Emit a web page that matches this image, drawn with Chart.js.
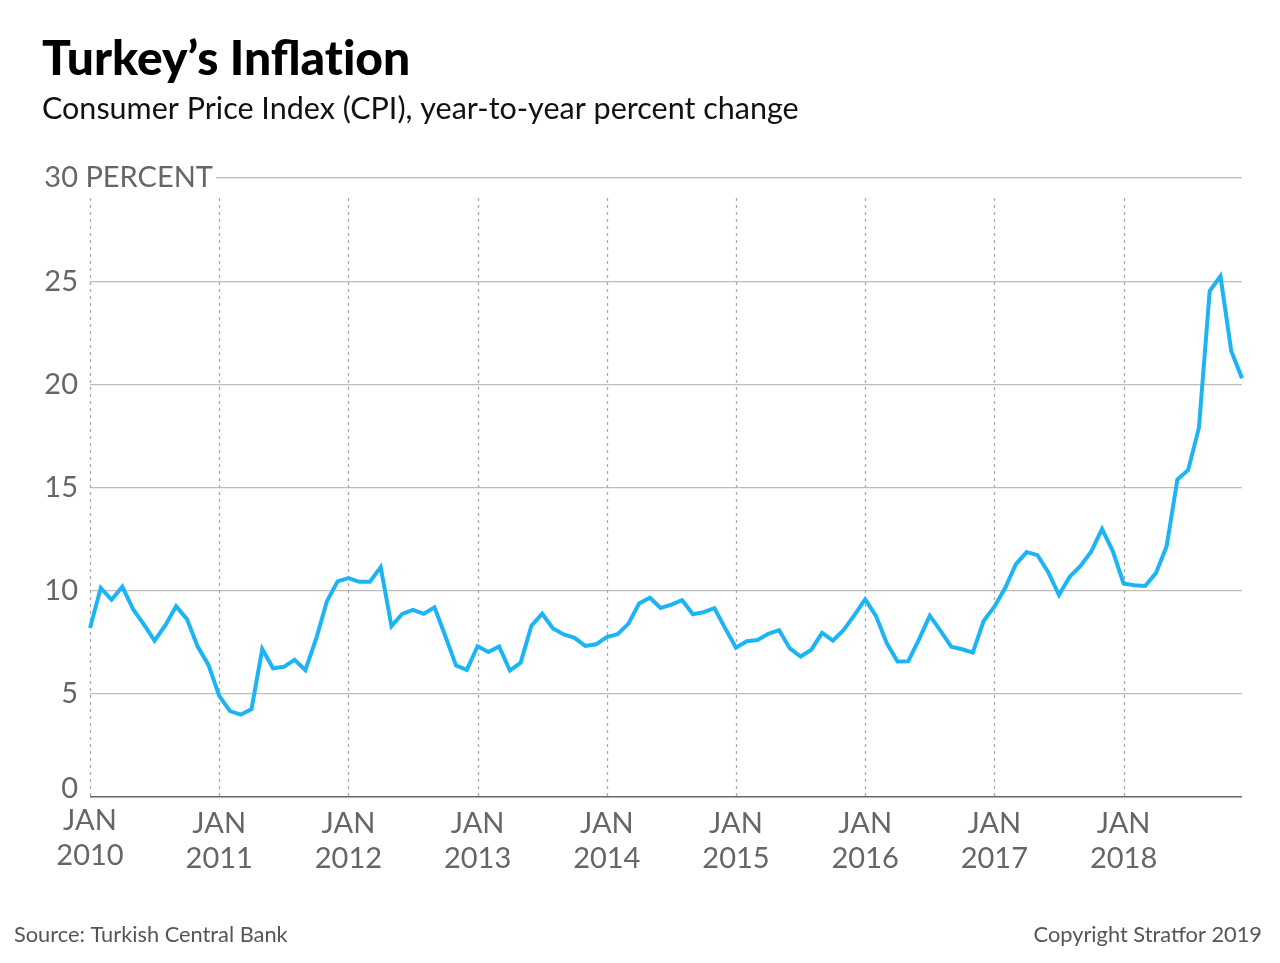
<!DOCTYPE html>
<html>
<head>
<meta charset="utf-8">
<script src="https://cdn.jsdelivr.net/npm/chart.js@4/dist/chart.umd.min.js"></script>
<style>
  html, body { margin:0; padding:0; background:#fff; }
  #wrap { width:1280px; height:963px; position:relative; }
</style>
</head>
<body>
<div id="wrap"><canvas id="c" width="1280" height="963"></canvas></div>
<script>
// ---- data ----
const years = [2010, 2011, 2012, 2013, 2014, 2015, 2016, 2017, 2018];
const monthNames = ['JAN','FEB','MAR','APR','MAY','JUN','JUL','AUG','SEP','OCT','NOV','DEC'];
const cpi2010 = [8.19, 10.13, 9.56, 10.19, 9.10, 8.37, 7.58, 8.33, 9.24, 8.62, 7.29, 6.40];
const cpi2011 = [4.90, 4.16, 3.99, 4.26, 7.17, 6.24, 6.31, 6.65, 6.15, 7.66, 9.48, 10.45];
const cpi2012 = [10.61, 10.43, 10.43, 11.14, 8.28, 8.87, 9.07, 8.88, 9.19, 7.80, 6.37, 6.16];
const cpi2013 = [7.31, 7.03, 7.29, 6.13, 6.51, 8.30, 8.88, 8.17, 7.88, 7.71, 7.32, 7.40];
const cpi2014 = [7.75, 7.89, 8.39, 9.38, 9.66, 9.16, 9.32, 9.54, 8.86, 8.96, 9.15, 8.17];
const cpi2015 = [7.24, 7.55, 7.61, 7.91, 8.09, 7.20, 6.81, 7.14, 7.95, 7.58, 8.10, 8.81];
const cpi2016 = [9.58, 8.78, 7.46, 6.57, 6.58, 7.64, 8.79, 8.05, 7.28, 7.16, 7.00, 8.53];
const cpi2017 = [9.22, 10.13, 11.29, 11.87, 11.72, 10.90, 9.79, 10.68, 11.20, 11.90, 12.98, 11.92];
const cpi2018 = [10.35, 10.26, 10.23, 10.85, 12.15, 15.39, 15.85, 17.90, 24.52, 25.24, 21.62, 20.30];
const yTicks = [0, 5, 10, 15, 20, 25, 30];
const yTopUnit = 'PERCENT';

const categories = [];
years.forEach(y => monthNames.forEach(m => categories.push(m + ' ' + y)));
const cpiValues = [].concat(cpi2010, cpi2011, cpi2012, cpi2013, cpi2014, cpi2015, cpi2016, cpi2017, cpi2018);
const xTickLabels = years.map(y => ['JAN', String(y)]);

// ---- styling ----
const FONT = 'Lato, "Open Sans", sans-serif';
const GREY = '#666666';

const decor = {
  id: 'decor',
  beforeDatasetsDraw(chart) {
    const ctx = chart.ctx, x = chart.scales.x, y = chart.scales.y;
    ctx.save();
    ctx.strokeStyle = '#a8a8a8';
    ctx.lineWidth = 1.3;
    ctx.setLineDash([3, 4]);
    years.forEach((yr, i) => {
      const px = Math.round(x.getPixelForValue(i * 12)) + 0.5;
      ctx.beginPath();
      ctx.moveTo(px, 198);
      ctx.lineTo(px, y.getPixelForValue(0));
      ctx.stroke();
    });
    ctx.restore();
  },
  afterDraw(chart) {
    const ctx = chart.ctx, x = chart.scales.x, y = chart.scales.y;
    ctx.save();
    ctx.fillStyle = '#000';
    ctx.textBaseline = 'alphabetic';
    ctx.textAlign = 'left';
    ctx.font = '900 48px ' + FONT;
    ctx.fillText('Turkey\u2019s Inflat\u200Cion', 42, 75);
    ctx.font = '400 30.5px ' + FONT;
    ctx.fillStyle = '#111';
    ctx.fillText('Consumer Price Index (CPI), year-to-year percent change', 42, 119);

    ctx.font = '400 29px ' + FONT;
    ctx.fillStyle = GREY;
    ctx.textBaseline = 'middle';
    yTicks.forEach(v => {
      const py = y.getPixelForValue(v);
      if (v === 30) {
        ctx.fillStyle = '#fff';
        ctx.fillRect(30, py - 14, 186, 28);
        ctx.fillStyle = GREY;
        ctx.textAlign = 'left';
        const w = ctx.measureText('30').width;
        ctx.fillText('30 ' + yTopUnit, 78 - w, py);
      } else {
        ctx.textAlign = 'right';
        ctx.fillText(String(v), 78, py - (v === 0 ? 8 : 0));
      }
    });

    ctx.textAlign = 'center';
    xTickLabels.forEach((lab, i) => {
      const px = x.getPixelForValue(i * 12);
      const off = i === 0 ? -3 : 0;
      ctx.fillText(lab[0], px, 824 + off);
      ctx.fillText(lab[1], px, 859 + off);
    });

    ctx.font = '400 21.8px ' + FONT;
    ctx.fillStyle = '#555';
    ctx.textAlign = 'left';
    ctx.fillText('Source: Turkish Central Bank', 14, 935);
    ctx.textAlign = 'right';
    ctx.fillText('Copyright Stratfor 2019', 1262, 935);
    ctx.restore();
  }
};

new Chart(document.getElementById('c'), {
  type: 'line',
  data: {
    labels: categories,
    datasets: [{
      data: cpiValues,
      borderColor: '#1db4f6',
      borderWidth: 4,
      pointRadius: 0,
      tension: 0,
      fill: false,
      borderJoinStyle: 'miter'
    }]
  },
  options: {
    responsive: false,
    animation: false,
    devicePixelRatio: 1,
    layout: { padding: { left: 90, right: 38, top: 178, bottom: 166 } },
    plugins: { legend: { display: false }, tooltip: { enabled: false }, title: { display: false } },
    scales: {
      x: {
        type: 'category',
        offset: false,
        grid: { display: false, drawTicks: false },
        border: { display: false },
        ticks: { display: false }
      },
      y: {
        min: 0, max: 30,
        ticks: { display: false, stepSize: 5 },
        grid: {
          drawTicks: false,
          color: ctx => ctx.tick && ctx.tick.value === 0 ? '#666' : '#bdbdbd',
          lineWidth: ctx => ctx.tick && ctx.tick.value === 0 ? 1.6 : 1.2
        },
        border: { display: false }
      }
    }
  },
  plugins: [decor]
});
</script>
</body>
</html>
